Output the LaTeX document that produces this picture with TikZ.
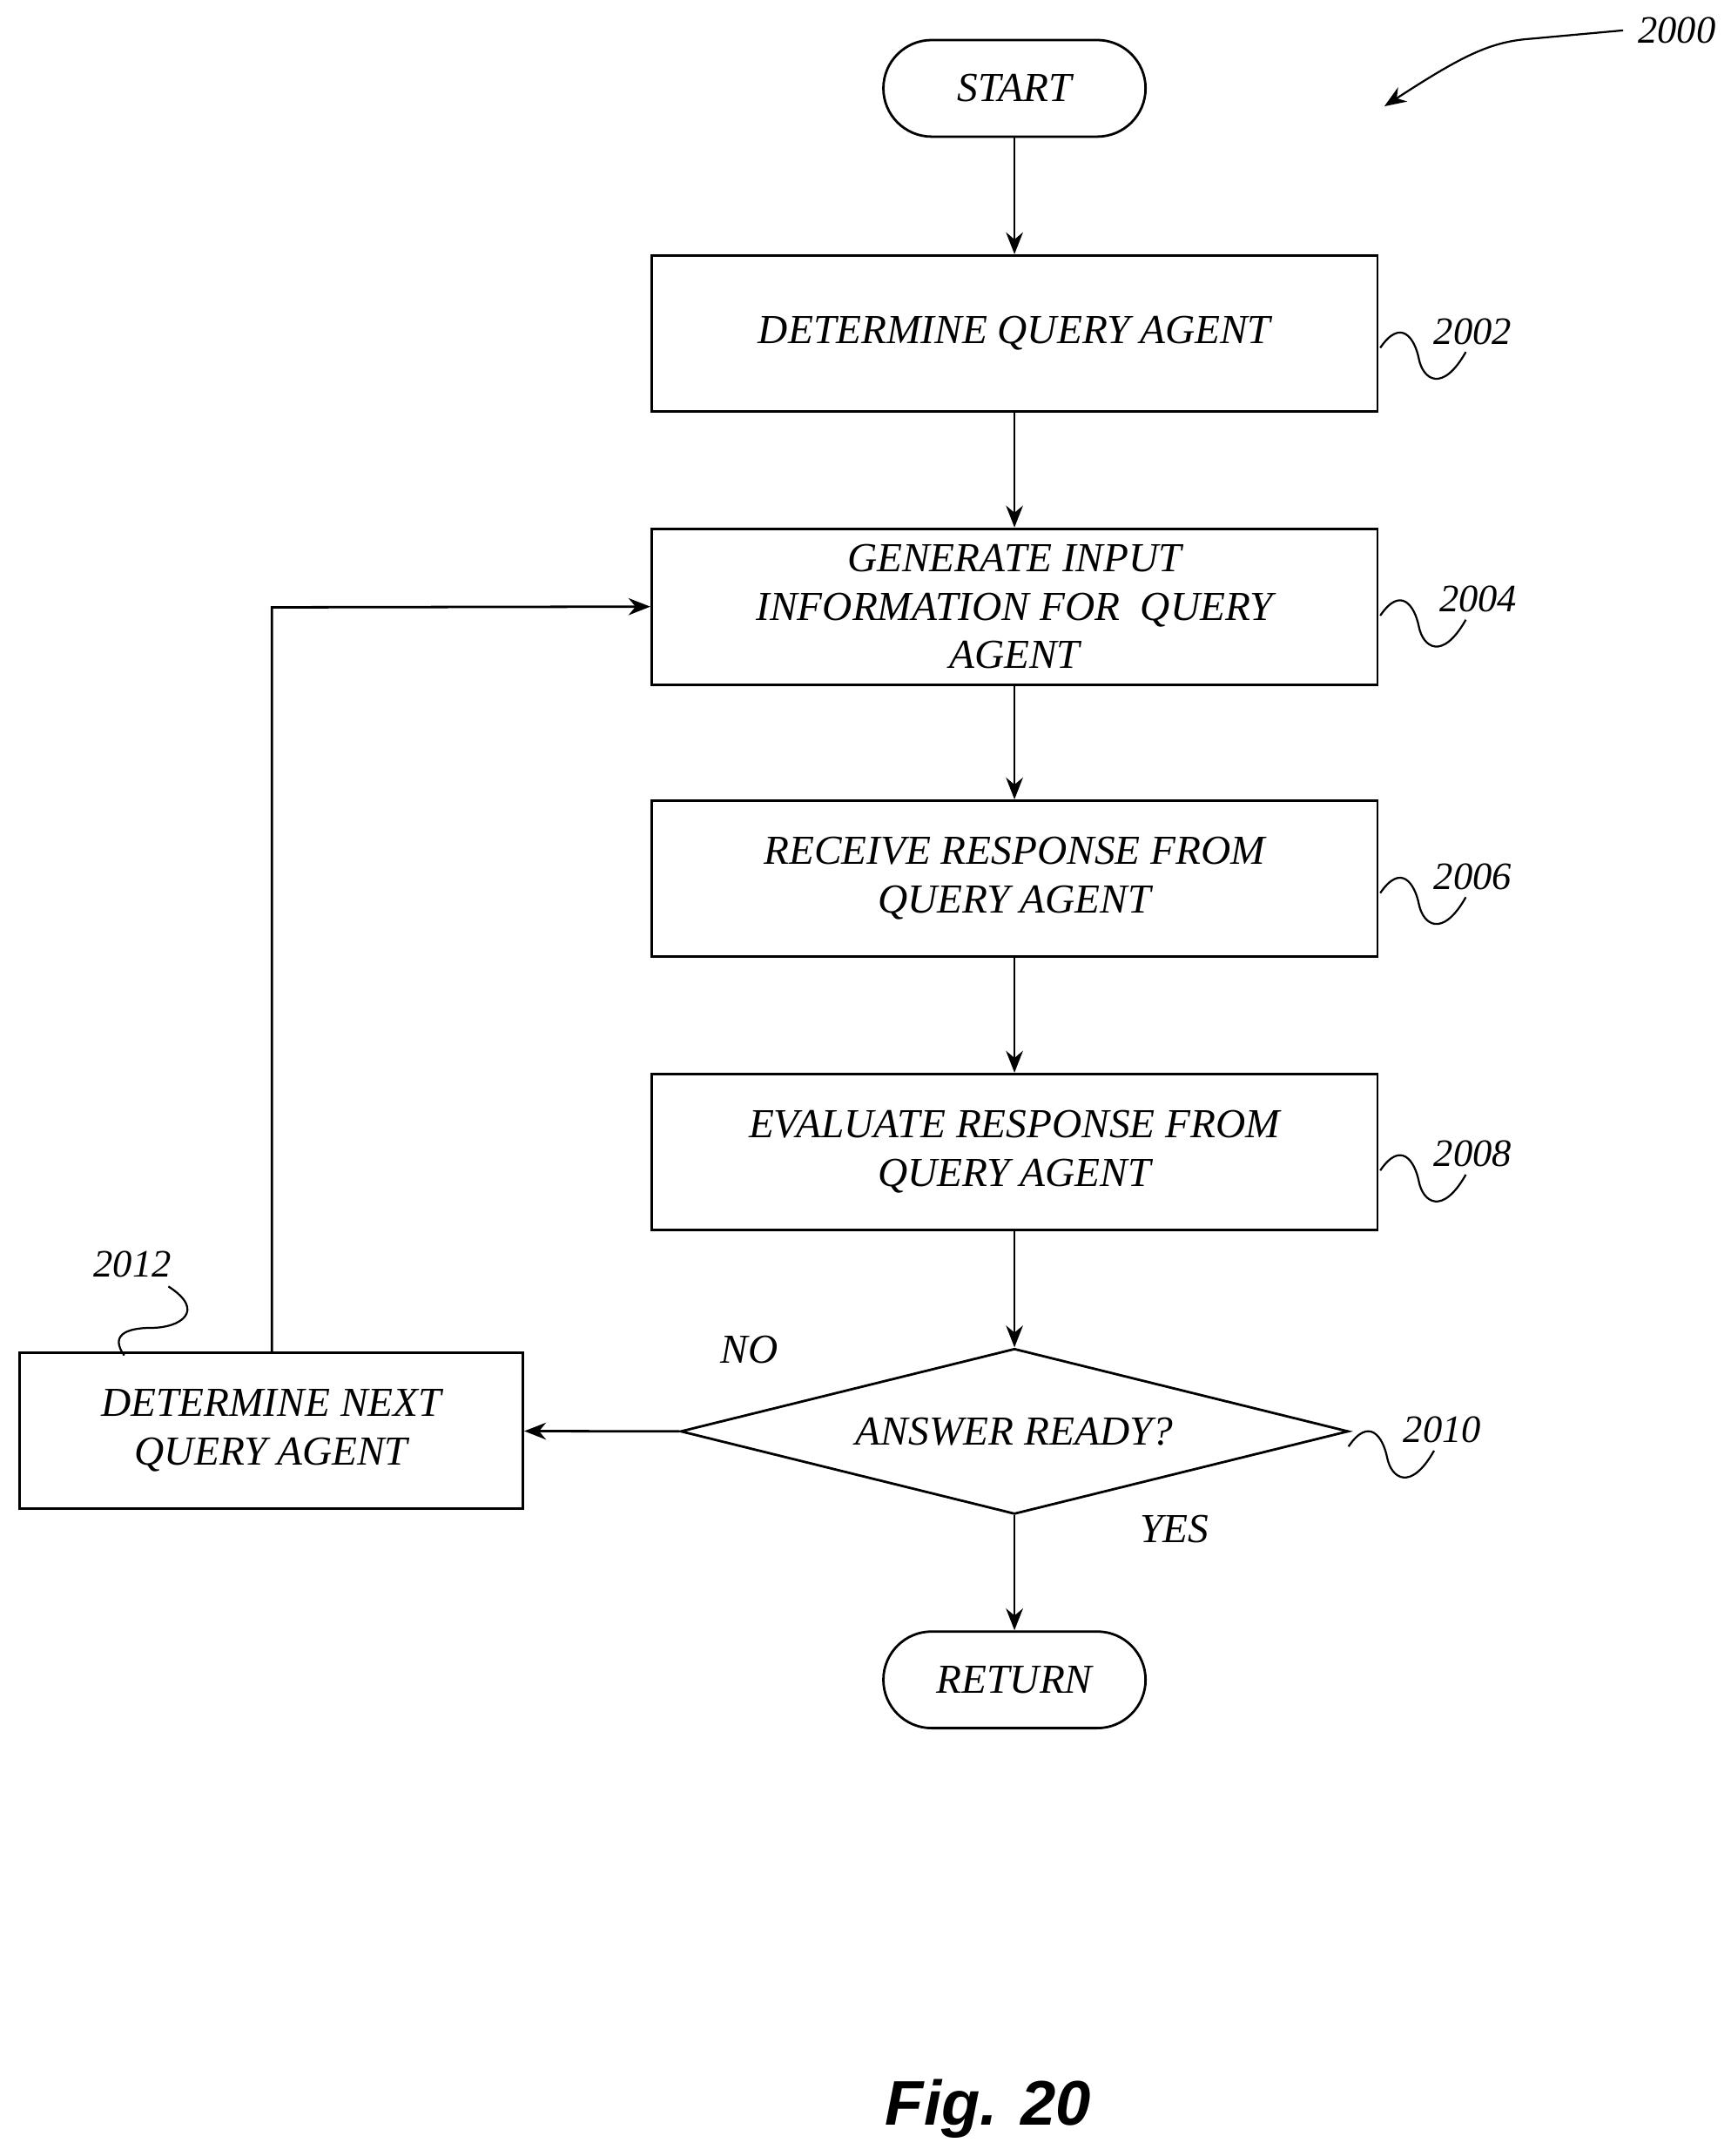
\documentclass[tikz,border=0pt]{standalone}
\usepackage{fontspec}
\setmainfont{Liberation Serif}
\setsansfont{Liberation Sans}
\usetikzlibrary{shapes.geometric,arrows.meta}
\begin{document}
\begin{tikzpicture}[x=0.02cm,y=-0.02cm,
  every node/.style={font=\fontsize{17}{20}\selectfont\itshape},
  box/.style={draw,line width=1pt,minimum width=10.52cm,minimum height=2.26cm,align=center,inner sep=2pt},
  term/.style={draw,line width=1pt,rounded corners=0.7cm,minimum width=3.8cm,minimum height=1.4cm},
  arr/.style={line width=1pt,-{Stealth[length=9pt,width=7pt]}},
  sq/.style={line width=0.8pt},
  lab/.style={font=\fontsize{16}{18}\selectfont\itshape}]
\useasboundingbox (0,0) rectangle (1254,1562);
\node[term] (start) at (735,64) {START};
\node[box] (b2) at (735,241.5) {DETERMINE QUERY AGENT};
\node[box] (b4) at (735,439.5) {GENERATE INPUT\\INFORMATION FOR\ \ QUERY\\AGENT};
\node[box] (b6) at (735,636.5) {RECEIVE RESPONSE FROM\\QUERY AGENT};
\node[box] (b8) at (735,834.5) {EVALUATE RESPONSE FROM\\QUERY AGENT};
\node[draw,line width=1pt,diamond,aspect=4.03,minimum width=9.68cm,minimum height=2.4cm,inner sep=0pt] (d) at (735,1037) {};
\node at (735,1037) {ANSWER READY?};
\node[box,minimum width=7.3cm] (b12) at (196.5,1036.5) {DETERMINE NEXT\\QUERY AGENT};
\node[term] (ret) at (735,1217) {RETURN};
\draw[arr] (start) -- (b2);
\draw[arr] (b2) -- (b4);
\draw[arr] (b4) -- (b6);
\draw[arr] (b6) -- (b8);
\draw[arr] (b8) -- (d.north);
\draw[arr] (d.south) -- (ret);
\draw[arr] (d.west) -- (b12);
\coordinate (c1) at (197,440);
\draw[arr] (b12.north -| c1) -- (c1) -- (b4.west);
\node at (543,978) {NO};
\node at (851,1108) {YES};
% ref labels
\foreach \n/\y/\lx in {2002/240/1067,2004/434/1071,2006/635/1067,2008/836/1067}{
  \node[lab] at (\lx,\y) {\n};
  \draw[sq] (1000,\y+12) .. controls (1015,\y-10) and (1025,\y+5) .. (1028,\y+20) .. controls (1031,\y+35) and (1045,\y+45) .. (1062,\y+15);
}
\node[lab] at (1045,1036) {2010};
\draw[sq] (977,1048) .. controls (992,1026) and (1002,1041) .. (1005,1056) .. controls (1008,1071) and (1022,1081) .. (1039,1051);
\node[lab] at (96,916) {2012};
\draw[sq] (122,932) .. controls (150,950) and (130,962) .. (110,962) .. controls (90,962) and (80,968) .. (90,982);
\node[lab] at (1215,22) {2000};
\draw[sq,-{Stealth[length=9pt,width=7pt]}] (1176,22) -- (1110,28) .. controls (1080,30) and (1060,40) .. (1003,77);
\node[font=\fontsize{26}{30}\selectfont\sffamily\bfseries\itshape] at (716,1528) {Fig. 20};
\end{tikzpicture}
\end{document}
